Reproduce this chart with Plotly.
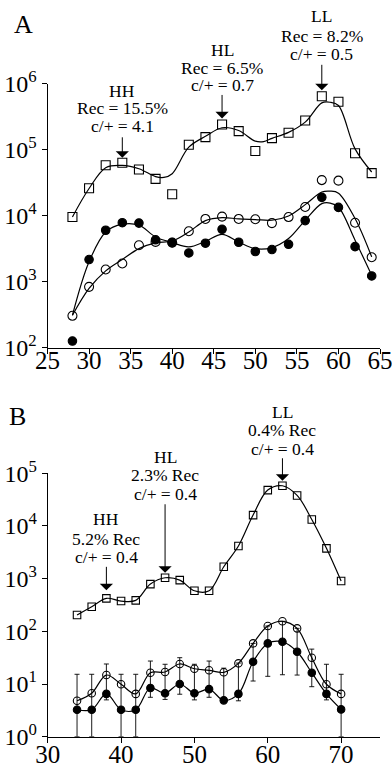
import math
import plotly.graph_objects as go

W, H = 392, 768
SERIF = "Liberation Serif"

# ---------------- Panel A data ----------------
x_A = [28, 30, 32, 34, 36, 38, 40, 42, 44, 46, 48, 50, 52, 54, 56, 58, 60, 62, 64]
sq_A = [9500, 26000, 58000, 63000, 50000, 36000, 21000, 118000, 154000, 240000,
        190000, 95000, 149000, 180000, 275000, 640000, 530000, 88000, 44000]
open_A = [304, 834, 1530, 1880, 3560, 4000, 3900, 5800, 8900, 9660,
          8900, 8800, 7700, 9500, 13500, 34500, 33800, 7800, 2340]
filled_A = [126, 2160, 6000, 7800, 7700, 4300, 3900, 2720, 3820, 6200,
            3950, 2860, 3060, 3680, 8400, 18900, 13300, 3390, 1220]

# fitted curves
fit_x_sq_A = [28, 30, 32, 34, 36, 38, 39, 40, 42, 44, 46, 48, 50, 51, 52, 54, 56, 58, 59, 60, 62, 64]
fit_sq_A = [9550, 25700, 53100, 57500, 51300, 38900, 37800, 43100, 108700, 158500, 213800,
            194100, 134000, 131800, 147900, 182000, 260000, 509000, 520000, 464500, 102300, 45700]
fit_x_circ_A = [28, 30, 32, 34, 36, 38, 40, 42, 44, 46, 48, 50, 52, 54, 56, 58, 59, 60, 62, 64]
fit_open_A = [310, 789, 1455, 2163, 3162, 3855, 4130, 5650, 8410, 9330, 8910, 8710, 8510,
              9860, 14660, 22750, 23440, 21880, 9020, 2370]
fit_filled_A = [310, 1995, 5650, 7410, 7160, 4750, 3910, 3360, 4070, 5210, 3980, 3160, 3280,
                4490, 8490, 15170, 15490, 13490, 4240, 1250]

# ---------------- Panel B data ----------------
x_B = [34, 36, 38, 40, 42, 44, 46, 48, 50, 52, 54, 56, 58, 60, 62, 64, 66, 68, 70]
sq_B = [204, 293, 423, 376, 387, 789, 1040, 940, 589, 589, 1680, 4160, 16100, 48000,
        58000, 38000, 13300, 3760, 900]
open_B = [4.8, 6.7, 14.8, 9.9, 6.5, 16.4, 16.9, 24, 19.5, 18.2, 16.7, 24.7, 59, 126,
          155, 114, 31.6, 9.9, 6.5]
filled_B = [3.25, 3.25, 6.5, 3.25, 3.25, 8.4, 6.7, 10, 6.7, 8.0, 4.9, 6.5, 26.5, 59,
            63.5, 41, 16.4, 6.5, 3.3]
err_hi_B = [15.3, 15.3, 24, 15.3, 15.3, 27.3, 23.7, 31.6, 23.7, 27.3, 20, 25, 59, 126,
            155, 114, 46, 23.7, 15.3]
err_lo_B = [1, 1, 5.0, 1, 1, 5.6, 5.1, 6.4, 5.0, 5.6, 4.5, 4.8, 11.4, 14, 15, 14.8, 8.9, 5.0, 1]

# annotations: (key, x, lines)
labels_A = [("HH", 34, ["HH", "Rec = 15.5%", "c/+ = 4.1"]),
            ("HL", 46, ["HL", "Rec = 6.5%", "c/+ = 0.7"]),
            ("LL", 58, ["LL", "Rec = 8.2%", "c/+ = 0.5"])]
labels_B = [("HH", 38, ["HH", "5.2% Rec", "c/+ = 0.4"]),
            ("HL", 46, ["HL", "2.3% Rec", "c/+ = 0.4"]),
            ("LL", 62, ["LL", "0.4% Rec", "c/+ = 0.4"])]

fig = go.Figure()
K = "black"

def line(x, y, xa, ya, shape="spline"):
    fig.add_trace(go.Scatter(x=x, y=y, mode="lines", xaxis=xa, yaxis=ya,
                             line=dict(color=K, width=1.2, shape=shape, smoothing=1),
                             hoverinfo="skip", showlegend=False))

def pts(x, y, xa, ya, symbol, size, err=None):
    fig.add_trace(go.Scatter(x=x, y=y, mode="markers", xaxis=xa, yaxis=ya,
                             marker=dict(symbol=symbol, size=size, color=K,
                                         line=dict(color=K, width=1.1)),
                             error_y=err, showlegend=False))

# Panel A
line(fit_x_sq_A, fit_sq_A, "x", "y")
line(fit_x_circ_A, fit_open_A, "x", "y")
line(fit_x_circ_A, fit_filled_A, "x", "y")
pts(x_A, sq_A, "x", "y", "square-open", 9)
pts(x_A, open_A, "x", "y", "circle-open", 9)
pts(x_A, filled_A, "x", "y", "circle", 8.5)

# Panel B
line(x_B, sq_B, "x2", "y2")
line(x_B, open_B, "x2", "y2")
line(x_B, filled_B, "x2", "y2")
plus = [h - v for h, v in zip(err_hi_B, open_B)]
minus = [v - l for l, v in zip(err_lo_B, open_B)]
pts(x_B, sq_B, "x2", "y2", "square-open", 7.5)
pts(x_B, filled_B, "x2", "y2", "circle", 7.5)
pts(x_B, open_B, "x2", "y2", "circle-open", 7.5,
    err=dict(type="data", symmetric=False, array=plus, arrayminus=minus,
             color=K, thickness=0.9, width=2.5))

def py(p):
    return 1 - p / H

axis_common = dict(showline=True, linecolor=K, linewidth=1, ticks="outside",
                   tickcolor=K, ticklen=5, tickwidth=1, showgrid=False, zeroline=False,
                   automargin=False, ticklabeloverflow="allow")
xfont = dict(family=SERIF, size=25, color=K)
yfont = dict(family=SERIF, size=24, color=K)

pow_text = lambda e: "10<sup>%d</sup>" % e

fig.update_layout(
    width=W, height=H, margin=dict(l=0, r=0, t=0, b=0, autoexpand=False),
    paper_bgcolor="white", plot_bgcolor="rgba(0,0,0,0)", showlegend=False,
    xaxis=dict(domain=[47.5 / W, 380 / W], range=[25, 65],
               tickvals=[25, 30, 35, 40, 45, 50, 55, 60, 65], tickfont=xfont,
               anchor="y", ticklabelstandoff=-15, **axis_common),
    yaxis=dict(domain=[py(347.7), py(83.5)], type="log", range=[2, 6], tickfont=yfont,
               tickvals=[1e2, 1e3, 1e4, 1e5, 1e6], ticktext=[pow_text(e) for e in range(2, 7)],
               anchor="x", ticklabelstandoff=0, **axis_common),
    xaxis2=dict(domain=[47.7 / W, 380 / W], range=[30, 75.3], tickvals=[30, 40, 50, 60, 70],
                tickfont=xfont, anchor="y2", ticklabelstandoff=-10, **axis_common),
    yaxis2=dict(domain=[py(736.7), py(473.3)], type="log", range=[0, 5], tickfont=yfont,
                tickvals=[1, 1e1, 1e2, 1e3, 1e4, 1e5], ticktext=[pow_text(e) for e in range(0, 6)],
                anchor="x2", ticklabelstandoff=0, **axis_common),
)

ann = []
ann.append(dict(text="A", x=23 / W, y=py(24), xref="paper", yref="paper", showarrow=False,
                font=dict(family=SERIF, size=26, color=K), xanchor="center", yanchor="middle"))
ann.append(dict(text="B", x=17 / W, y=py(416), xref="paper", yref="paper", showarrow=False,
                font=dict(family=SERIF, size=26, color=K), xanchor="center", yanchor="middle"))

text_rows_A = {"HH": [91, 108.5, 126], "HL": [50, 67.5, 85], "LL": [16, 36, 54.5]}
arrow_A = {"HH": (-27, 5), "HL": (-31, 6), "LL": (-33, 6)}
text_rows_B = {"HH": [519, 538.5, 557], "HL": [457, 475, 493.5], "LL": [412, 430, 449]}
arrow_B = {"HH": (-33, 8), "HL": (-75, 5), "LL": (-29, 5)}

def add_labels(labels, xs, ys, rows, arrows, xr, yr):
    for key, xv, lines in labels:
        for txt, yp in zip(lines, rows[key]):
            ann.append(dict(text=txt, x=xv, y=py(yp), xref=xr, yref="paper", showarrow=False,
                            font=dict(family=SERIF, size=17.5, color=K),
                            xanchor="center", yanchor="middle"))
        yv = ys[xs.index(xv)]
        ay, so = arrows[key]
        ann.append(dict(text="", x=xv, y=math.log10(yv), xref=xr, yref=yr, showarrow=True,
                        ax=0, ay=ay, arrowhead=1, arrowsize=2.2, arrowwidth=1.0,
                        arrowcolor=K, standoff=so))

add_labels(labels_A, x_A, sq_A, text_rows_A, arrow_A, "x", "y")
add_labels(labels_B, x_B, sq_B, text_rows_B, arrow_B, "x2", "y2")

fig.update_layout(annotations=ann)
fig.write_html("out.html", config={"displayModeBar": False, "staticPlot": True},
               post_script="document.body.style.margin='0';document.body.style.overflow='hidden';")
